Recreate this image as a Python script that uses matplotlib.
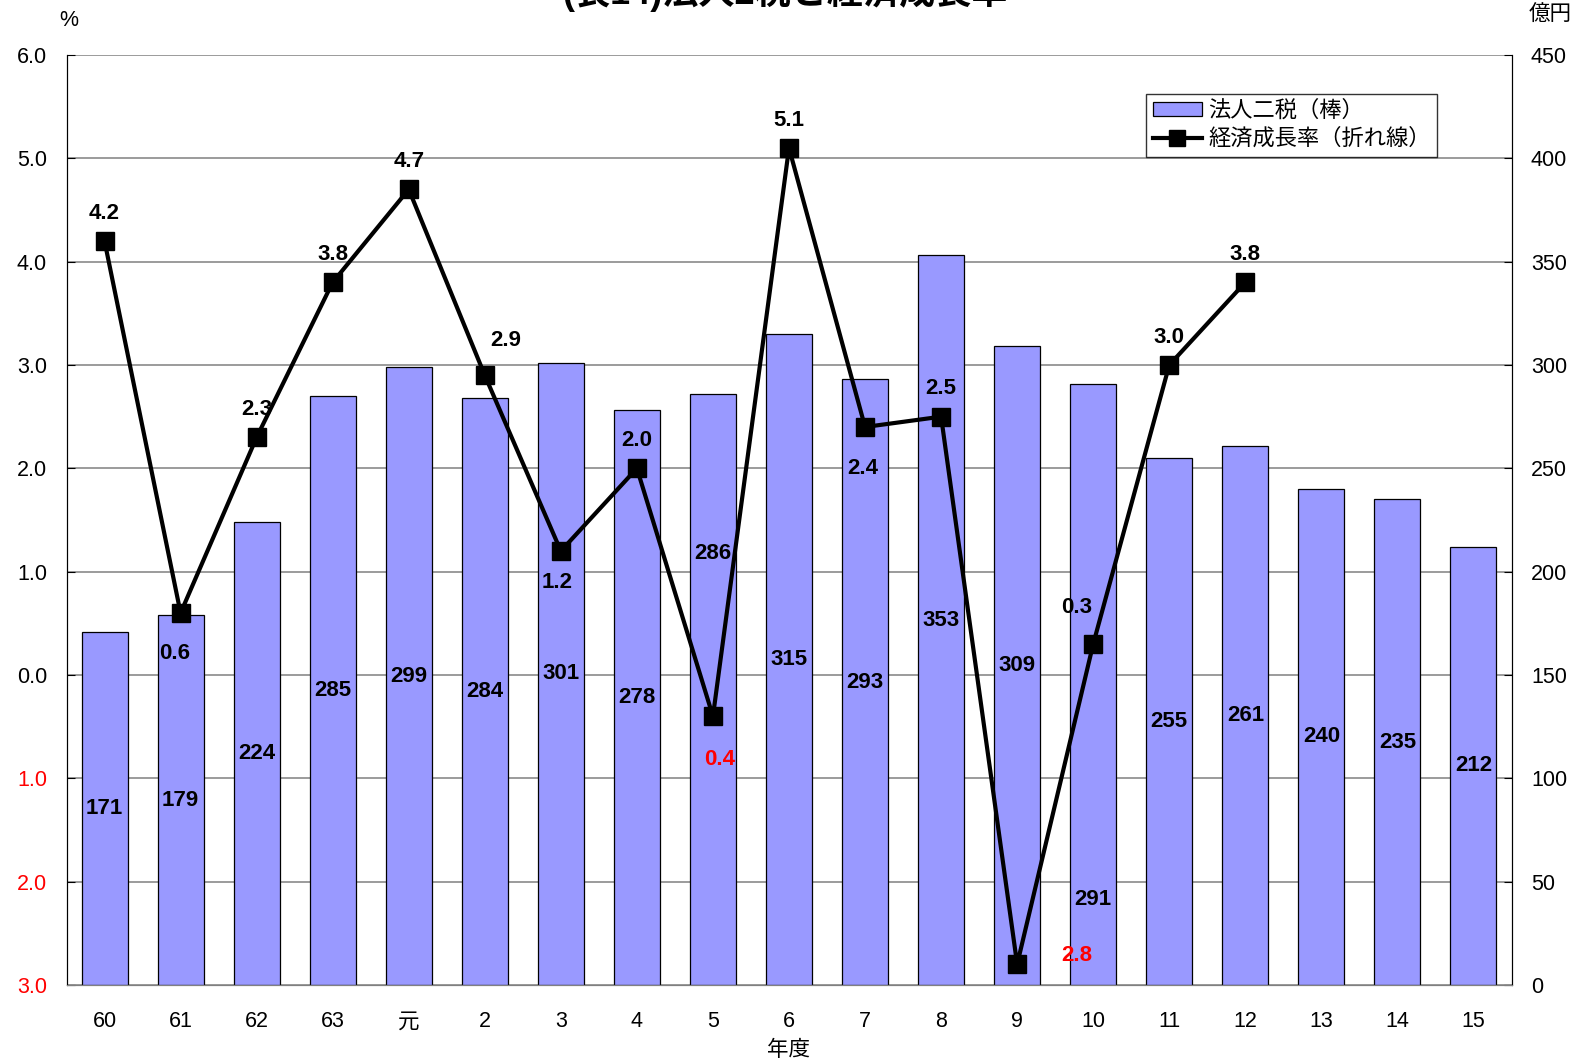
import matplotlib
matplotlib.use("Agg")
import matplotlib.pyplot as plt
from matplotlib.ticker import FixedLocator, FuncFormatter
from matplotlib.patches import Patch
from matplotlib.lines import Line2D

plt.rcParams['font.family'] = ['Liberation Sans', 'Noto Sans CJK JP', 'DejaVu Sans']

# 年度 (昭和60年度〜平成15年度)
years = ['60', '61', '62', '63', '元', '2', '3', '4', '5', '6', '7', '8', '9',
         '10', '11', '12', '13', '14', '15']
# 法人二税 (億円)
tax = [171, 179, 224, 285, 299, 284, 301, 278, 286, 315, 293, 353, 309,
       291, 255, 261, 240, 235, 212]
# 経済成長率 (%), 60〜12年度
growth = [4.2, 0.6, 2.3, 3.8, 4.7, 2.9, 1.2, 2.0, -0.4, 5.1, 2.4, 2.5, -2.8,
          0.3, 3.0, 3.8]

# label placement (offsets in points from marker) for the growth-rate labels
growth_offsets = {0: (0, 20), 1: (-4, -29), 2: (0, 20), 3: (0, 20), 4: (0, 20),
                  5: (15, 25), 6: (-3, -23), 7: (0, 20), 8: (5, -31),
                  9: (0, 20), 10: (-2, -30), 11: (0, 20), 12: (43, 6),
                  13: (-12, 26), 14: (0, 20), 15: (0, 20)}
# bar label heights (axis units); default is the middle of the bar
bar_label_y = {8: 208.7, 13: 41.4}

W, H = 1581, 1063
fig = plt.figure(figsize=(W / 100, H / 100), dpi=100)
L, R, T, B = 66.5, 1511.5, 55, 985
ax2 = fig.add_axes([L / W, 1 - B / H, (R - L) / W, (B - T) / H])
ax = ax2.twinx()
ax.yaxis.tick_left()
ax2.yaxis.tick_right()
ax.set_zorder(ax2.get_zorder() + 1)
ax.patch.set_visible(False)

x = list(range(len(years)))
fs = 15.5

# bars on the right (億円) axis
ax2.bar(x, tax, width=0.605, color='#9999FF', edgecolor='black', linewidth=0.9, zorder=2)
ax2.set_ylim(0, 450)
ax2.set_xlim(-0.5, len(years) - 0.5)
ax2.yaxis.set_major_locator(FixedLocator(range(0, 451, 50)))
ax2.grid(axis='y', color='#808080', linewidth=1.1, zorder=0)
ax2.set_axisbelow(True)
ax2.tick_params(axis='y', direction='in', length=6, labelsize=fs, pad=14,
                right=True, left=False, labelright=True, labelleft=False)
ax2.tick_params(axis='x', length=0, labelsize=fs, pad=19)
ax2.set_xticks(x)
ax2.set_xticklabels(years)

for i, v in enumerate(tax):
    yy = bar_label_y.get(i, v / 2)
    ax2.text(i, yy, str(v), ha='center', va='center', fontsize=16,
             fontweight='bold', zorder=3)

# line on the left (%) axis
ax.plot(range(len(growth)), growth, color='black', linewidth=3, marker='s',
        markersize=13.5, zorder=5)
ax.set_ylim(-3, 6)
left_ticks = [-3, -2, -1, 0, 1, 2, 3, 4, 5, 6]
ax.yaxis.set_major_locator(FixedLocator(left_ticks))
ax.yaxis.set_major_formatter(FuncFormatter(lambda v, p: f"{abs(v):.1f}"))
ax.tick_params(axis='y', direction='in', length=6, labelsize=fs, pad=14,
               left=True, right=False, labelleft=True, labelright=False)
fig.canvas.draw()
for t, v in zip(ax.get_yticklabels(), left_ticks):
    if v < 0:
        t.set_color('red')

for i, v in enumerate(growth):
    dx, dy = growth_offsets[i]
    ax.annotate(f"{abs(v):.1f}", (i, v), xytext=(dx, dy), textcoords='offset points',
                ha='center', va='center', fontsize=16, fontweight='bold',
                color='red' if v < 0 else 'black', zorder=6)

for a in (ax, ax2):
    a.spines['top'].set_visible(False)
    a.spines['bottom'].set_color('#808080')
    a.spines['left'].set_color('black')
    a.spines['right'].set_color('black')

# legend
handles = [Patch(facecolor='#9999FF', edgecolor='black', linewidth=0.9),
           Line2D([0], [0], color='black', linewidth=3, marker='s', markersize=12)]
leg = ax.legend(handles, ['法人二税（棒）', '経済成長率（折れ線）'],
                loc='upper left', fontsize=16, frameon=True, fancybox=False,
                borderpad=0.3, handlelength=2.2, handleheight=0.6,
                handletextpad=0.3, labelspacing=0.3, borderaxespad=0)
leg.set_bbox_to_anchor((1146 / W, 1 - 94 / H), transform=fig.transFigure)
leg.get_frame().set_edgecolor('black')
leg.get_frame().set_linewidth(1.0)

fig.text(69 / W, 1 - 20 / H, '%', ha='center', va='center', fontsize=fs)
fig.text(1550 / W, 1 - 15 / H, '億円', ha='center', va='center', fontsize=fs)
fig.text(788 / W, 1 - 1051 / H, '年度', ha='center', va='center', fontsize=fs)
fig.text(785 / W, 1 - 4 / H, '(表14)法人2税と経済成長率', ha='center',
         va='baseline', fontsize=26, fontweight='bold')

fig.savefig('out.png', dpi=100)
